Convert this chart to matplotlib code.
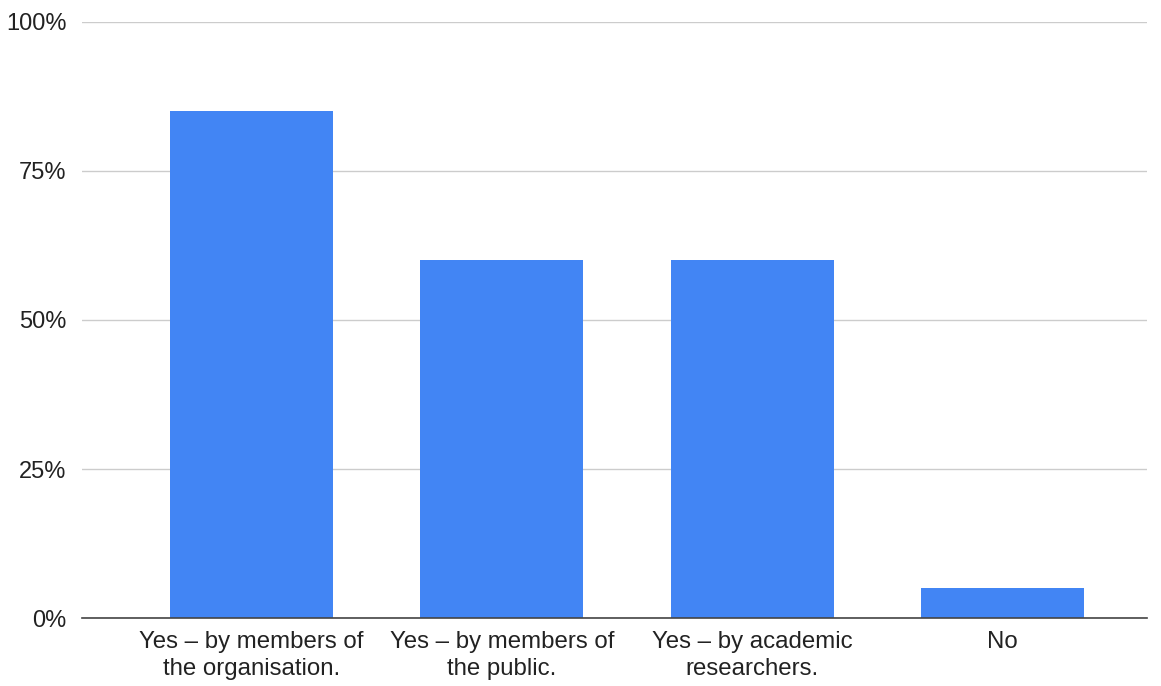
import matplotlib
matplotlib.use("Agg")
import matplotlib.pyplot as plt
from matplotlib.ticker import FuncFormatter

categories = ["Yes – by members of\nthe organisation.",
              "Yes – by members of\nthe public.",
              "Yes – by academic\nresearchers.",
              "No"]
values = [85, 60, 60, 5]
yticks = [0, 25, 50, 75, 100]

plt.rcParams['font.family'] = ['Liberation Sans', 'DejaVu Sans']

fig = plt.figure(figsize=(11.61, 6.86), dpi=100)
ax = fig.add_axes([0.0706, 0.0991, 0.9174, 0.8689])

x = range(len(categories))
ax.bar(x, values, width=0.652, color="#4285f4", zorder=3)
ax.set_xlim(-0.678, len(categories) - 1 + 0.578)
ax.set_ylim(0, 100)
ax.set_yticks(yticks)
ax.yaxis.set_major_formatter(FuncFormatter(lambda v, p: f"{int(v)}%"))
ax.set_xticks(list(x))
ax.set_xticklabels(categories, fontsize=17.3, color="#222222", linespacing=1.3)
ax.tick_params(axis='y', labelsize=17, labelcolor="#222222", length=0, pad=11)
ax.tick_params(axis='x', length=0, pad=9)
ax.grid(axis='y', color="#cccccc", linewidth=1, zorder=0)
for s in ["top", "right", "left"]:
    ax.spines[s].set_visible(False)
ax.spines["bottom"].set_color("#444444")
ax.spines["bottom"].set_linewidth(1.2)
ax.spines["bottom"].set_zorder(4)

fig.savefig("out.png", dpi=100)
